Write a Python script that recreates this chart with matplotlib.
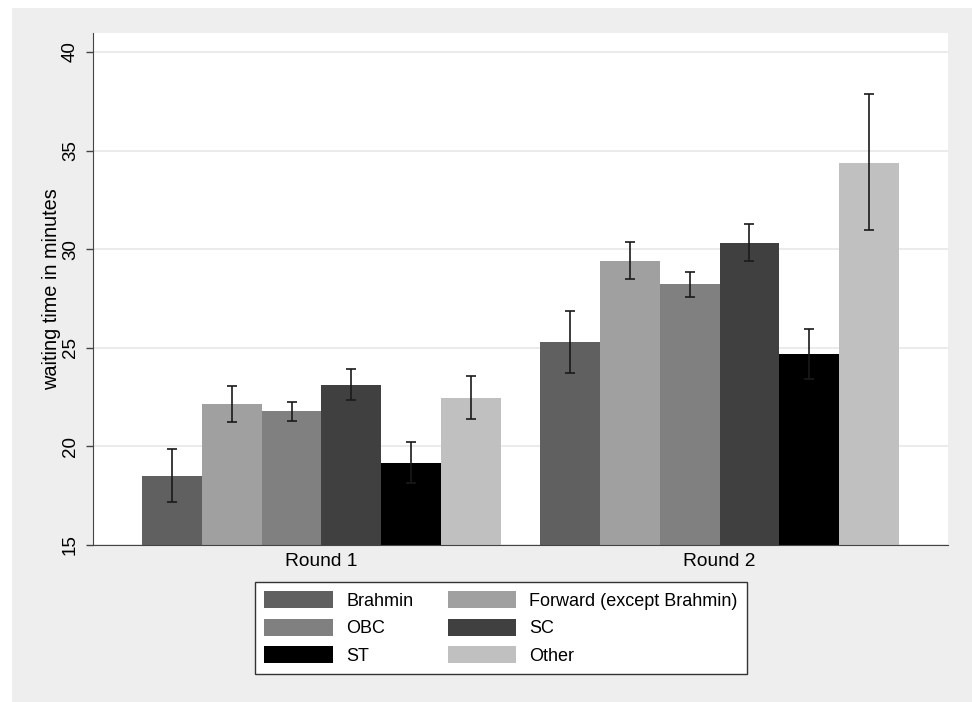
import numpy as np
import matplotlib.pyplot as plt
from matplotlib.patches import Rectangle

plt.rcParams['font.family'] = ['Liberation Sans', 'DejaVu Sans']

# data
rounds = ["Round 1", "Round 2"]
castes = ["Brahmin", "Forward (except Brahmin)", "OBC", "SC", "ST", "Other"]
colors = ["#606060", "#a0a0a0", "#808080", "#404040", "#000000", "#c0c0c0"]

mean_r1 = [18.51, 22.17, 21.78, 23.13, 19.17, 22.44]
mean_r2 = [25.28, 29.40, 28.22, 30.30, 24.69, 34.39]
lo_r1 = [17.20, 21.24, 21.29, 22.37, 18.12, 21.37]
hi_r1 = [19.85, 23.08, 22.25, 23.92, 20.22, 23.57]
lo_r2 = [23.72, 28.47, 27.59, 29.39, 23.43, 30.97]
hi_r2 = [26.87, 30.35, 28.86, 31.26, 25.95, 37.87]

means = np.array([mean_r1, mean_r2])
lows = np.array([lo_r1, lo_r2])
highs = np.array([hi_r1, hi_r2])

fig = plt.figure(figsize=(9.72, 7.02), dpi=100, facecolor="white")
# light gray graph region (Stata style)
fig.patches.append(Rectangle((12 / 972, 0), 1, (702 - 8) / 702, transform=fig.transFigure,
                             facecolor="#eeeeee", edgecolor="none", zorder=-10))

ax = fig.add_axes([93 / 972, (702 - 545) / 702, (948 - 93) / 972, (545 - 33) / 702])
ax.set_zorder(1)
ax.set_facecolor("white")

width = 0.15
x = np.arange(len(rounds))
handles = []
for i, caste in enumerate(castes):
    pos = x + (i - 2.5) * width
    h = ax.bar(pos, means[:, i], width, bottom=0, color=colors[i], label=caste, zorder=2)
    handles.append(h)
    err = [means[:, i] - lows[:, i], highs[:, i] - means[:, i]]
    ax.errorbar(pos, means[:, i], yerr=err, fmt="none", ecolor="#1a1a1a",
                elinewidth=1.2, capsize=3.6, capthick=1.2, zorder=3)

ax.set_ylim(15, 40.96)
ax.set_xlim(-0.574, 1.574)
ax.set_yticks([15, 20, 25, 30, 35, 40])
ax.set_yticklabels(["15", "20", "25", "30", "35", "40"], rotation=90, va="center", fontsize=13.5)
ax.set_xticks(x)
ax.set_xticklabels(rounds, fontsize=13.8)
ax.tick_params(axis="x", length=0, pad=6)
ax.tick_params(axis="y", length=5, width=1, color="#444444", pad=5)
ax.set_ylabel("waiting time in minutes", fontsize=14.3, labelpad=1)
ax.grid(axis="y", color="#e8e8e8", linewidth=1.2, zorder=0)
ax.set_axisbelow(True)
for s in ["top", "right"]:
    ax.spines[s].set_visible(False)
ax.spines["left"].set_color("#444444")
ax.spines["bottom"].set_color("#444444")

order = [0, 2, 4, 1, 3, 5]
leg = fig.legend([handles[k] for k in order], [castes[k] for k in order],
                 ncol=2, loc="center", bbox_to_anchor=(501 / 972, (702 - 628) / 702),
                 fontsize=13, handlelength=3.8, handleheight=1.1, labelspacing=0.48,
                 columnspacing=1.9, handletextpad=0.72, borderpad=0.5,
                 frameon=True, fancybox=False, edgecolor="#333333", framealpha=1)
leg.get_frame().set_linewidth(1.0)

fig.savefig("out.png", dpi=100, facecolor="white")
